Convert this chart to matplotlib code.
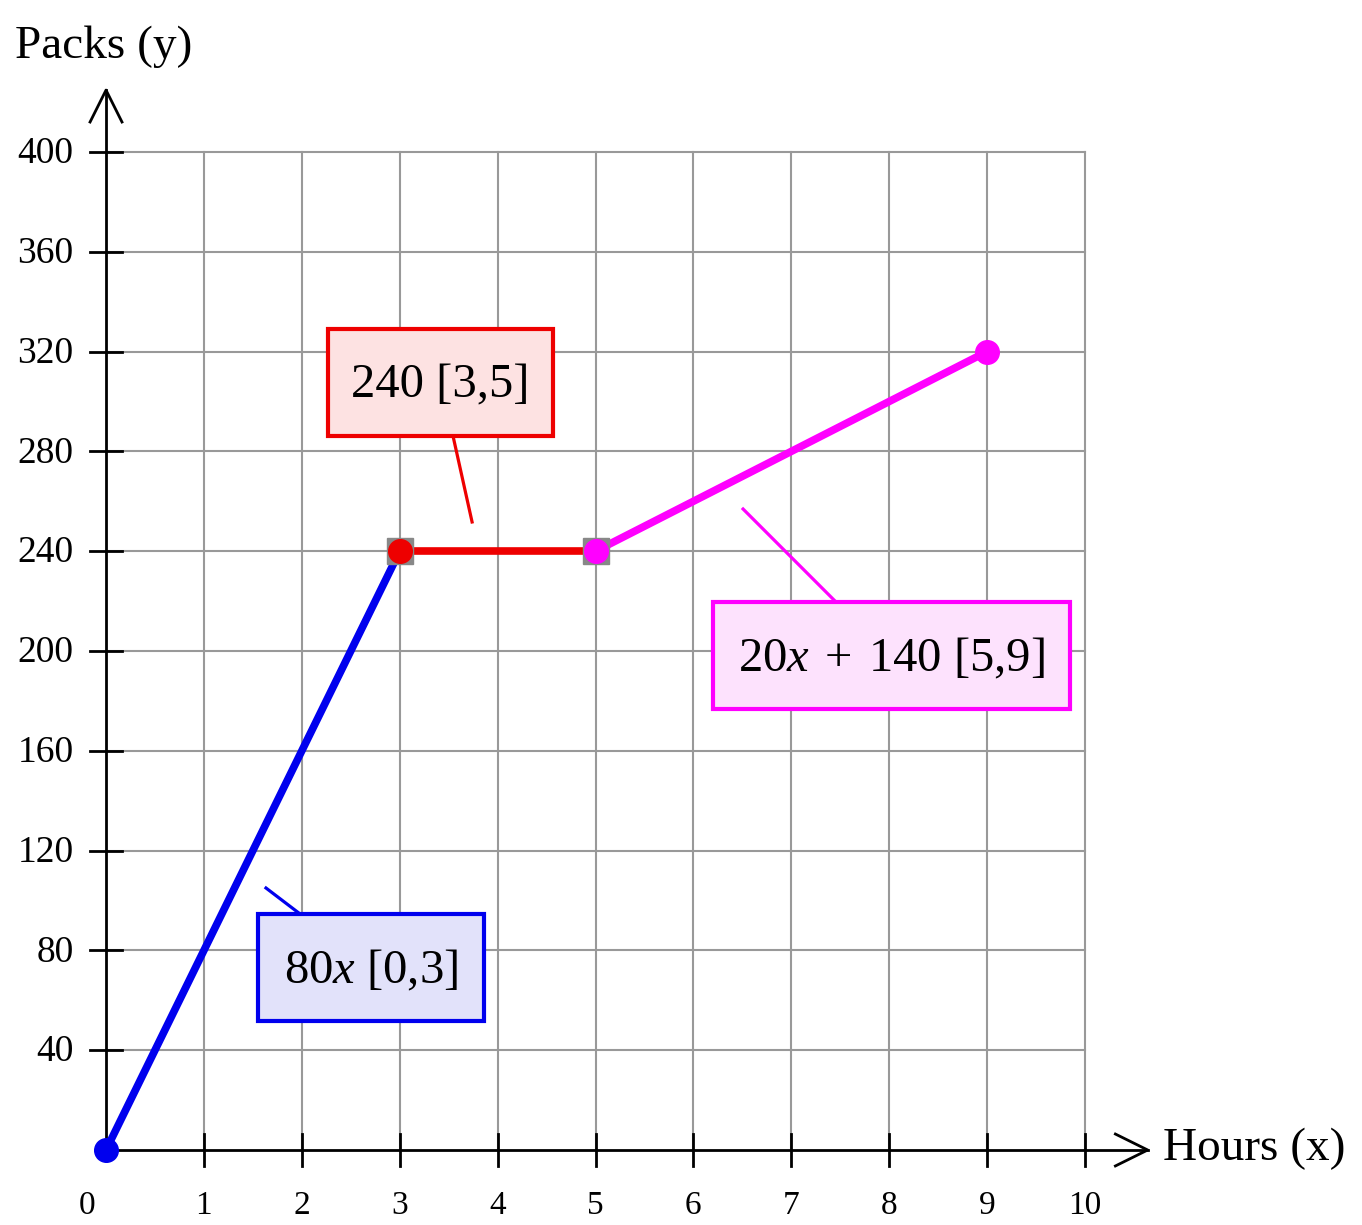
import matplotlib
matplotlib.use("Agg")
import matplotlib.pyplot as plt
from matplotlib.patches import Rectangle

plt.rcParams['font.family'] = ['Liberation Serif', 'DejaVu Serif']
plt.rcParams['mathtext.fontset'] = 'custom'
plt.rcParams['mathtext.rm'] = 'Liberation Serif'
plt.rcParams['mathtext.it'] = 'Liberation Serif:italic'

# Dados das três partes da função
x_azul = [0, 3]
y_azul = [0, 240]
x_verm = [3, 5]
y_verm = [240, 240]
x_mag = [5, 9]
y_mag = [240, 320]

x_ticks = [0, 1, 2, 3, 4, 5, 6, 7, 8, 9, 10]
y_ticks = [40, 80, 120, 160, 200, 240, 280, 320, 360, 400]

rotulos = ["80$x$ [0,3]", "240 [3,5]", "20$x$\u200a + \u200a140 [5,9]"]

fig = plt.figure(figsize=(13.62, 12.25), dpi=100)
ax = fig.add_axes([0, 0, 1, 1])
ax.set_xlim(-1.083, 12.829)
ax.set_ylim(-30.06, 460.9)
ax.axis('off')

# grade
for xv in x_ticks[1:]:
    ax.plot([xv, xv], [0, 400], color='#999999', lw=1.5, zorder=1)
for yv in y_ticks:
    ax.plot([0, 10], [yv, yv], color='#999999', lw=1.5, zorder=1)

# eixos com setas abertas
ax.plot([0, 0], [0, 424.8], color='black', lw=2, zorder=2)
ax.plot([-0.163, 0, 0.163], [412, 424.8, 412], color='black', lw=2, zorder=2)
ax.plot([0, 10.64], [0, 0], color='black', lw=2, zorder=2)
ax.plot([10.31, 10.64, 10.31], [6.4, 0, -6.4], color='black', lw=2, zorder=2)

# ticks cruzando os eixos
for xv in x_ticks[1:]:
    ax.plot([xv, xv], [-6.4, 6.4], color='black', lw=2, zorder=2)
    ax.text(xv, -22.5, str(xv), ha='center', va='center', fontsize=24)
ax.text(-0.19, -22.5, '0', ha='center', va='center', fontsize=24)
for yv in y_ticks:
    ax.plot([-0.163, 0.163], [yv, yv], color='black', lw=2, zorder=2)
    ax.text(-0.33, yv - 0.8, str(yv), ha='right', va='center', fontsize=27)

ax.text(-0.93, 442, 'Packs (y)', ha='left', va='center', fontsize=34)
ax.text(10.8, 0.5, 'Hours (x)', ha='left', va='center', fontsize=34)

# segmentos
ax.plot(x_azul, y_azul, color='#0000ee', lw=5.5, solid_capstyle='round', zorder=3)
ax.plot(x_verm, y_verm, color='#ee0000', lw=5.5, solid_capstyle='round', zorder=3)
ax.plot(x_mag, y_mag, color='#ff00ff', lw=5.5, solid_capstyle='round', zorder=3)

ax.plot([x_verm[0], x_mag[0]], [y_verm[0], y_mag[0]], 's', color='#888888', ms=19, zorder=4)
ax.plot(x_azul[0], y_azul[0], 'o', color='#0000ee', ms=17, zorder=5)
ax.plot(x_verm[0], y_verm[0], 'o', color='#ee0000', ms=17, zorder=5)
ax.plot(x_mag[0], y_mag[0], 'o', color='#ff00ff', ms=17, zorder=5)
ax.plot(x_mag[1], y_mag[1], 'o', color='#ff00ff', ms=17, zorder=5)

# caixas com rótulos
caixas = [
    (1.553, 51.7, 3.861, 94.6, '#0000ee', '#e2e2fa', (1.634, 105.0), (1.982, 94.6)),
    (2.268, 286.2, 4.566, 329.1, '#ee0000', '#fde2e2', (3.739, 251.7), (3.544, 286.2)),
    (6.200, 176.8, 9.847, 219.6, '#ff00ff', '#fde2fd', (6.507, 256.9), (7.457, 219.6)),
]
for (x0, y0, x1, y1, cor, fundo, p0, p1), txt in zip(caixas, rotulos):
    ax.plot([p0[0], p1[0]], [p0[1], p1[1]], color=cor, lw=2.3, zorder=6)
    ax.add_patch(Rectangle((x0, y0), x1 - x0, y1 - y0, facecolor=fundo,
                           edgecolor=cor, lw=3, zorder=7))
    ax.text((x0 + x1) / 2, (y0 + y1) / 2 - 1.2, txt, ha='center', va='center',
            fontsize=35, zorder=8)

fig.savefig('out.png', dpi=100)
